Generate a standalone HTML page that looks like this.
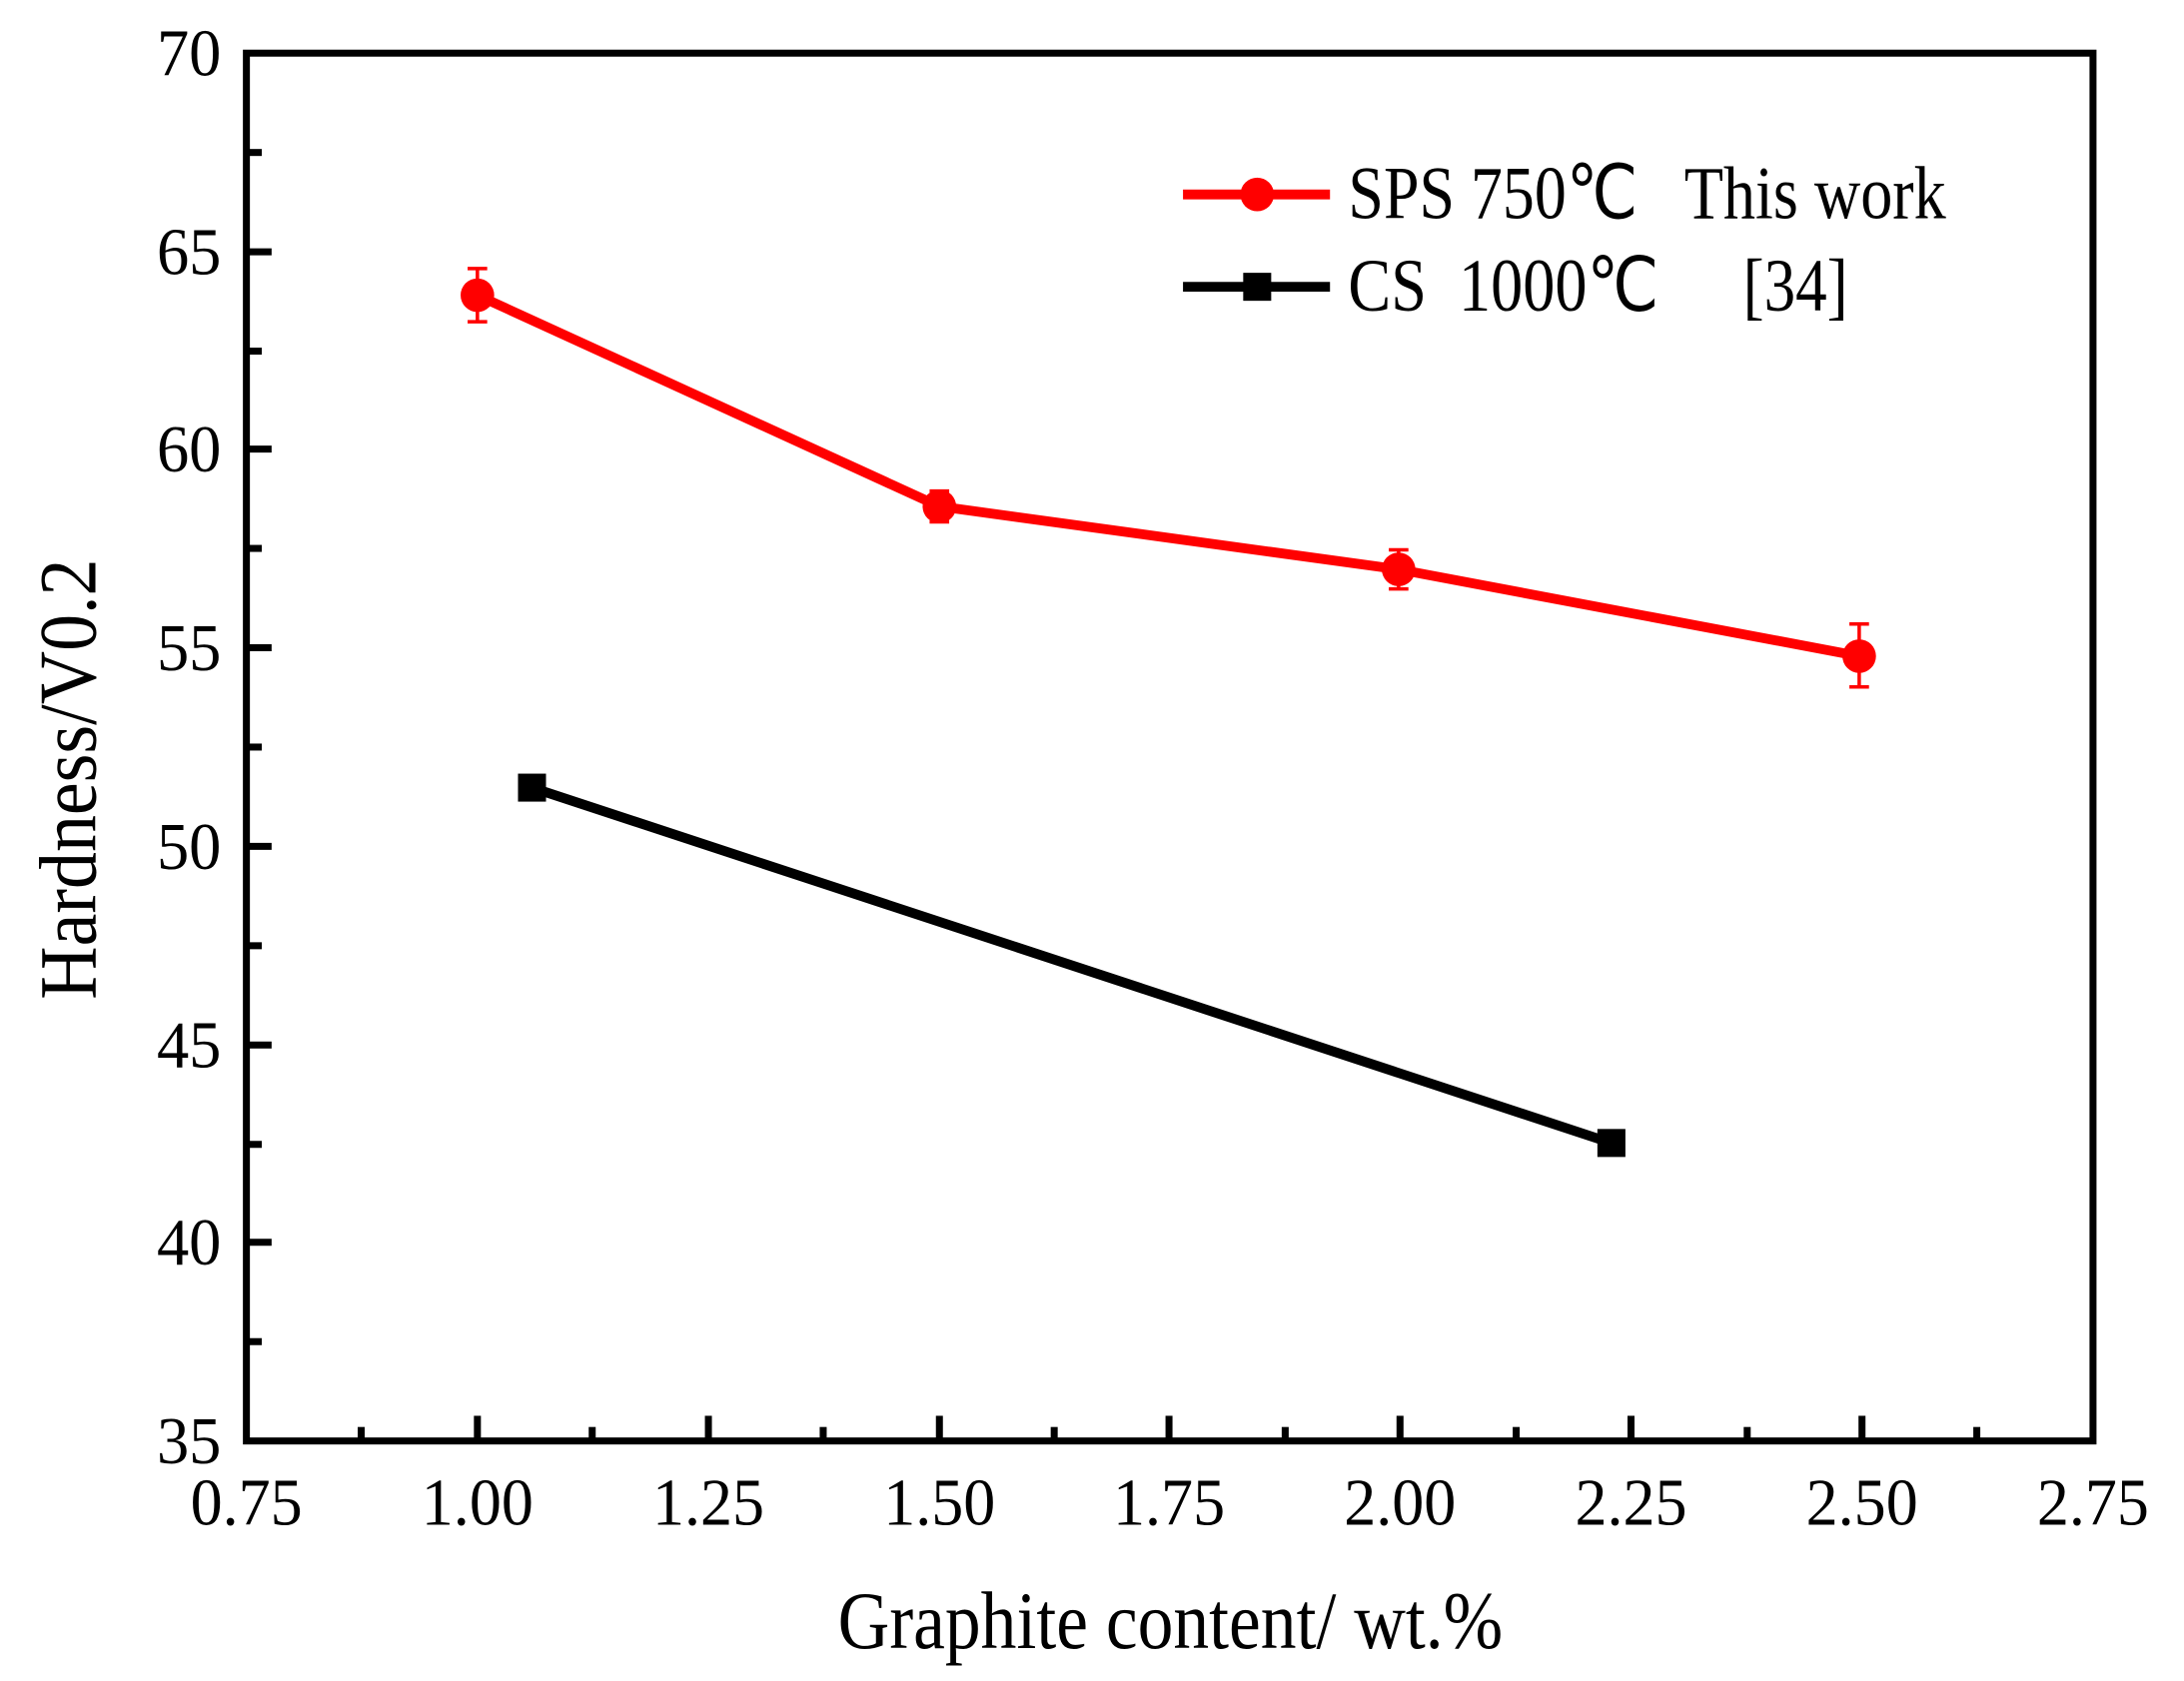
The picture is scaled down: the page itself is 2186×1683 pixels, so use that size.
<!DOCTYPE html>
<html><head><style>html,body{margin:0;padding:0;background:#fff}</style></head>
<body>
<svg width="2186" height="1678" viewBox="0 0 1560 1198" preserveAspectRatio="none" xmlns="http://www.w3.org/2000/svg" font-family="Liberation Serif, serif">
<rect width="1560" height="1198" fill="#fff"/>
<rect x="176" y="38" width="1319" height="992" fill="none" stroke="#000" stroke-width="5"/>
<g stroke="#000" stroke-width="5">
<line x1="176" y1="180" x2="194" y2="180"/><line x1="176" y1="321" x2="194" y2="321"/>
<line x1="176" y1="463" x2="194" y2="463"/><line x1="176" y1="605" x2="194" y2="605"/>
<line x1="176" y1="747" x2="194" y2="747"/><line x1="176" y1="888" x2="194" y2="888"/>
<line x1="176" y1="109" x2="187" y2="109"/><line x1="176" y1="251" x2="187" y2="251"/>
<line x1="176" y1="392" x2="187" y2="392"/><line x1="176" y1="534" x2="187" y2="534"/>
<line x1="176" y1="676" x2="187" y2="676"/><line x1="176" y1="818" x2="187" y2="818"/>
<line x1="176" y1="959" x2="187" y2="959"/>
<line x1="341" y1="1030" x2="341" y2="1012"/><line x1="506" y1="1030" x2="506" y2="1012"/>
<line x1="671" y1="1030" x2="671" y2="1012"/><line x1="835" y1="1030" x2="835" y2="1012"/>
<line x1="1000" y1="1030" x2="1000" y2="1012"/><line x1="1165" y1="1030" x2="1165" y2="1012"/>
<line x1="1330" y1="1030" x2="1330" y2="1012"/>
<line x1="258" y1="1030" x2="258" y2="1020"/><line x1="423" y1="1030" x2="423" y2="1020"/>
<line x1="588" y1="1030" x2="588" y2="1020"/><line x1="753" y1="1030" x2="753" y2="1020"/>
<line x1="918" y1="1030" x2="918" y2="1020"/><line x1="1083" y1="1030" x2="1083" y2="1020"/>
<line x1="1248" y1="1030" x2="1248" y2="1020"/><line x1="1412" y1="1030" x2="1412" y2="1020"/>
</g>
<g font-size="48" text-anchor="end">
<text x="158" y="54" textLength="46" lengthAdjust="spacingAndGlyphs">70</text>
<text x="158" y="196" textLength="46" lengthAdjust="spacingAndGlyphs">65</text>
<text x="158" y="337" textLength="46" lengthAdjust="spacingAndGlyphs">60</text>
<text x="158" y="479" textLength="46" lengthAdjust="spacingAndGlyphs">55</text>
<text x="158" y="621" textLength="46" lengthAdjust="spacingAndGlyphs">50</text>
<text x="158" y="763" textLength="46" lengthAdjust="spacingAndGlyphs">45</text>
<text x="158" y="904" textLength="46" lengthAdjust="spacingAndGlyphs">40</text>
<text x="158" y="1046" textLength="46" lengthAdjust="spacingAndGlyphs">35</text>
</g>
<g font-size="48" text-anchor="middle">
<text x="176" y="1090" textLength="80" lengthAdjust="spacingAndGlyphs">0.75</text>
<text x="341" y="1090" textLength="80" lengthAdjust="spacingAndGlyphs">1.00</text>
<text x="506" y="1090" textLength="80" lengthAdjust="spacingAndGlyphs">1.25</text>
<text x="671" y="1090" textLength="80" lengthAdjust="spacingAndGlyphs">1.50</text>
<text x="835" y="1090" textLength="80" lengthAdjust="spacingAndGlyphs">1.75</text>
<text x="1000" y="1090" textLength="80" lengthAdjust="spacingAndGlyphs">2.00</text>
<text x="1165" y="1090" textLength="80" lengthAdjust="spacingAndGlyphs">2.25</text>
<text x="1330" y="1090" textLength="80" lengthAdjust="spacingAndGlyphs">2.50</text>
<text x="1495" y="1090" textLength="80" lengthAdjust="spacingAndGlyphs">2.75</text>
</g>
<text x="836" y="1178" font-size="58" text-anchor="middle" textLength="475" lengthAdjust="spacingAndGlyphs">Graphite content/ wt.%</text>
<text transform="translate(68,557) rotate(-90)" font-size="58" text-anchor="middle" textLength="315" lengthAdjust="spacingAndGlyphs">Hardness/V0.2</text>
<polyline points="380,563 1151,817" fill="none" stroke="#000" stroke-width="7"/>
<rect x="370" y="553" width="20" height="20" fill="#000"/>
<rect x="1141" y="807" width="20" height="20" fill="#000"/>
<polyline points="341,211 671,362 999,407 1328,469" fill="none" stroke="#f00" stroke-width="7"/>
<g stroke="#f00" stroke-width="2.5" fill="none">
<path d="M341 192V230M334 192H348M334 230H348"/>
<path d="M671 351V373M664 351H678M664 373H678"/>
<path d="M999 393V421M992 393H1006M992 421H1006"/>
<path d="M1328 446V491M1321 446H1335M1321 491H1335"/>
</g>
<g fill="#f00">
<circle cx="341" cy="211" r="12"/><circle cx="671" cy="362" r="12"/>
<circle cx="999" cy="407" r="12"/><circle cx="1328" cy="469" r="12"/>
</g>
<line x1="845" y1="139" x2="950" y2="139" stroke="#f00" stroke-width="7"/>
<circle cx="898" cy="139" r="12" fill="#f00"/>
<line x1="845" y1="205" x2="950" y2="205" stroke="#000" stroke-width="7"/>
<rect x="888" y="195" width="20" height="20" fill="#000"/>
<g font-size="54">
<text x="963" y="156" textLength="207" lengthAdjust="spacingAndGlyphs">SPS 750℃</text>
<text x="1203" y="156" textLength="187" lengthAdjust="spacingAndGlyphs">This work</text>
<text x="963" y="222" textLength="222" lengthAdjust="spacingAndGlyphs" xml:space="preserve">CS  1000℃</text>
<text x="1245" y="222" textLength="75" lengthAdjust="spacingAndGlyphs">[34]</text>
</g>
</svg>
</body></html>
